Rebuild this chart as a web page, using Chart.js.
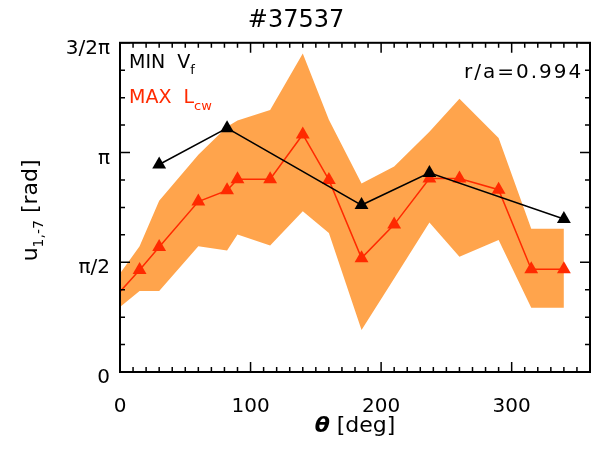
<!DOCTYPE html>
<html>
<head>
<meta charset="utf-8">
<script src="https://cdn.jsdelivr.net/npm/chart.js@4/dist/chart.umd.min.js"></script>
<style>
  html, body { margin: 0; padding: 0; background: #fff; }
  canvas { display: block; }
</style>
</head>
<body>
<canvas id="plot" width="598" height="450"></canvas>
<script>
// values (theta in deg, phase in rad)
var redTheta    = [0, 15, 30, 60, 82, 90, 115, 140, 160, 185, 210, 237, 260, 290, 315, 340];
var redPhase    = [1.15, 1.46, 1.79, 2.44, 2.60, 2.76, 2.76, 3.40, 2.75, 1.63, 2.11, 2.77, 2.77, 2.61, 1.47, 1.47];
var bandHigh    = [1.41, 1.80, 2.45, 3.11, 3.51, 3.60, 3.75, 4.56, 3.61, 2.70, 2.94, 3.44, 3.91, 3.35, 2.05, 2.05];
var bandLow     = [0.93, 1.16, 1.16, 1.80, 1.74, 1.97, 1.81, 2.30, 1.99, 0.60, 1.34, 2.14, 1.65, 1.89, 0.92, 0.92];
var blackTheta  = [30, 82, 185, 237, 340];
var blackPhase  = [2.97, 3.49, 2.39, 2.85, 2.19];
var xTickValues = [0, 100, 200, 300];
var yTickValues = [0, Math.PI / 2, Math.PI, 3 * Math.PI / 2];
var yTickLabels = ['0', 'π/2', 'π', '3/2π'];

var ORANGE = '#FFA44C',
    RED    = '#FF2A00',
    FONT   = 'DejaVu Sans';

Chart.defaults.font.family = FONT;
Chart.defaults.color = '#000';

function pts( xs, ys ) {
    return xs.map( function ( x, i ) { return { x: x, y: ys[i] }; } );
}

// writes a row of text pieces (for sub-scripts)
function drawPieces( ctx, pieces, x, y, align ) {
    var total = 0;
    pieces.forEach( function ( p ) {
        ctx.font = ( p.style || '' ) + ' ' + p.size + 'px "' + FONT + '"';
        p.w = ctx.measureText( p.t ).width;
        total += p.w;
    } );
    var cx = align === 'center' ? x - total / 2 : x;
    pieces.forEach( function ( p ) {
        ctx.font = ( p.style || '' ) + ' ' + p.size + 'px "' + FONT + '"';
        ctx.fillText( p.t, cx, y + ( p.dy || 0 ) );
        cx += p.w;
    } );
}

var framePlugin = {
    id: 'frame',
    afterDraw: function ( chart ) {
        var ctx = chart.ctx,
            a   = chart.chartArea,
            xs  = chart.scales.x,
            ys  = chart.scales.y,
            v, p, len;

        ctx.save();
        ctx.strokeStyle = '#000';
        ctx.lineWidth = 2;
        ctx.strokeRect( a.left, a.top, a.right - a.left, a.bottom - a.top );

        ctx.lineWidth = 1.5;
        ctx.beginPath();
        for ( v = 0; v <= 360; v += 10 ) {
            p = xs.getPixelForValue( v );
            len = v % 100 === 0 ? 10 : 5;
            ctx.moveTo( p, a.bottom ); ctx.lineTo( p, a.bottom - len );
            ctx.moveTo( p, a.top );    ctx.lineTo( p, a.top + len );
        }
        for ( v = 0; v <= 12; v++ ) {
            p = ys.getPixelForValue( v * Math.PI / 8 );
            len = v % 4 === 0 ? 10 : 5;
            ctx.moveTo( a.left, p );  ctx.lineTo( a.left + len, p );
            ctx.moveTo( a.right, p ); ctx.lineTo( a.right - len, p );
        }
        ctx.stroke();

        ctx.textBaseline = 'alphabetic';
        ctx.textAlign = 'left';

        // labels inside the frame
        ctx.fillStyle = '#000';
        drawPieces( ctx, [ { t: 'MIN  V', size: 19 }, { t: 'f', size: 13, dy: 6 } ], a.left + 9, 68 );
        ctx.fillStyle = RED;
        drawPieces( ctx, [ { t: 'MAX  L', size: 19 }, { t: 'cw', size: 13, dy: 7 } ], a.left + 9, 103 );
        ctx.fillStyle = '#000';
        ctx.letterSpacing = '2px';
        drawPieces( ctx, [ { t: 'r/a=0.994', size: 20 } ], 464, 78 );
        ctx.letterSpacing = '0px';

        // x title
        drawPieces( ctx, [ { t: 'θ', size: 22, style: 'italic bold' }, { t: ' [deg]', size: 22 } ],
                    ( a.left + a.right ) / 2, 432, 'center' );

        // y title
        ctx.translate( 37, ( a.top + a.bottom ) / 2 + 3 );
        ctx.rotate( -Math.PI / 2 );
        drawPieces( ctx, [ { t: 'u', size: 22 }, { t: '1,-7', size: 14, dy: 6 }, { t: ' [rad]', size: 22 } ],
                    0, 0, 'center' );
        ctx.restore();
    }
};

new Chart( document.getElementById( 'plot' ).getContext( '2d' ), {
    type: 'line',
    data: {
        datasets: [
            {
                data: pts( blackTheta, blackPhase ),
                borderColor: '#000', backgroundColor: '#000',
                borderWidth: 1.5, pointStyle: 'triangle', pointRadius: 8,
                pointBorderWidth: 0, fill: false
            },
            {
                data: pts( redTheta, redPhase ),
                borderColor: RED, backgroundColor: RED,
                borderWidth: 1.5, pointStyle: 'triangle',
                pointRadius: redTheta.map( function ( t ) { return t === 0 ? 0 : 8; } ),
                pointBorderWidth: 0, fill: false
            },
            {
                data: pts( redTheta, bandHigh ),
                borderWidth: 0, pointRadius: 0, backgroundColor: ORANGE, fill: '+1'
            },
            {
                data: pts( redTheta, bandLow ),
                borderWidth: 0, pointRadius: 0, backgroundColor: ORANGE, fill: false
            }
        ]
    },
    options: {
        responsive: false,
        animation: false,
        devicePixelRatio: 1,
        layout: { padding: { left: 0, right: 6, top: 0, bottom: 0 } },
        elements: { line: { tension: 0 } },
        plugins: {
            legend: { display: false },
            tooltip: { enabled: false },
            filler: { drawTime: 'beforeDatasetsDraw' },
            title: {
                display: true, text: '#37537', color: '#000',
                font: { size: 24, weight: 'normal' },
                padding: { top: 6, bottom: 8 }
            }
        },
        scales: {
            x: {
                type: 'linear', min: 0, max: 360,
                grid: { display: false, drawTicks: false },
                border: { display: false },
                ticks: { font: { size: 20 }, padding: 23, color: '#000' },
                afterBuildTicks: function ( s ) { s.ticks = xTickValues.map( function ( v ) { return { value: v }; } ); },
                afterFit: function ( s ) { s.height = 78; }
            },
            y: {
                type: 'linear', min: 0, max: 3 * Math.PI / 2,
                grid: { display: false, drawTicks: false },
                border: { display: false },
                ticks: {
                    font: { size: 20 }, padding: 10, labelOffset: 6, color: '#000',
                    callback: function ( v ) {
                        var i = yTickValues.findIndex( function ( t ) { return Math.abs( t - v ) < 1e-6; } );
                        return i < 0 ? '' : yTickLabels[i];
                    }
                },
                afterBuildTicks: function ( s ) { s.ticks = yTickValues.map( function ( v ) { return { value: v }; } ); },
                afterFit: function ( s ) { s.width = 120; }
            }
        }
    },
    plugins: [ framePlugin ]
} );
</script>
</body>
</html>
